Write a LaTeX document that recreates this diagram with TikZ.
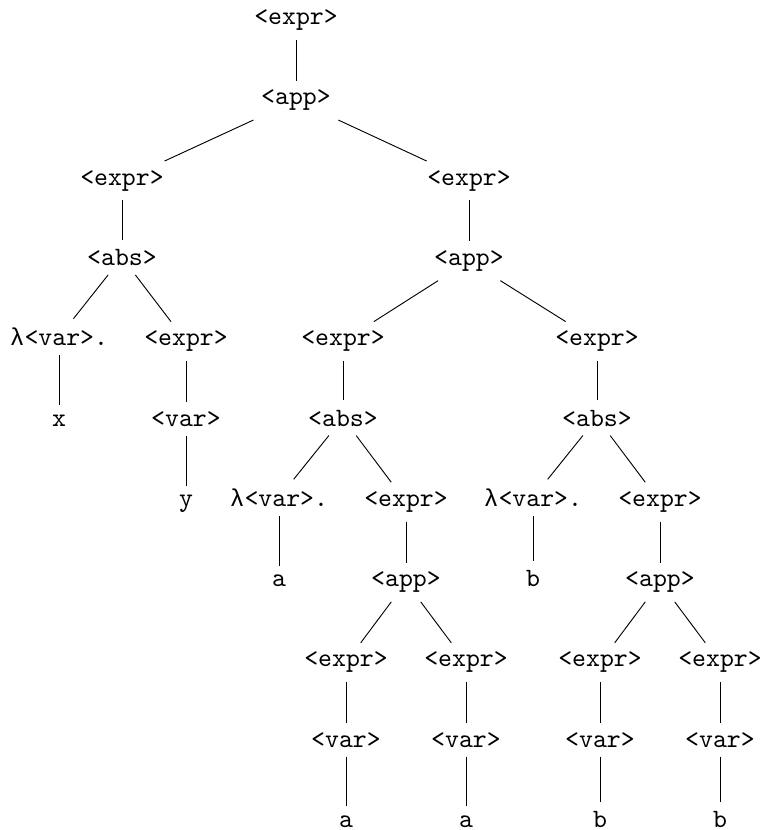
\documentclass[tikz,border=0pt]{standalone}
\usepackage{fontspec}
\newfontfamily\lamfont[Scale=0.92]{Liberation Mono}
\newcommand{\lamvar}{{\lamfont λ}<var>.}
\begin{document}
\begin{tikzpicture}[x=0.3774pt,y=-0.3774pt,
  every node/.style={font=\ttfamily, anchor=base},
  treeedge/.style={draw, line width=0.35pt}]
\useasboundingbox (0,0) rectangle (762,830);
% level 0
\node (r) at (296,24.5) {<expr>};
% level 1
\node (app1) at (296,104.8) {<app>};
% level 2
\node (e1) at (122,185.1) {<expr>};
\node (e2) at (469,185.1) {<expr>};
% level 3
\node (abs1) at (122,265.4) {<abs>};
\node (app2) at (469,265.4) {<app>};
% level 4
\node (lam1) at (59,345.7) {\lamvar};
\node (e3) at (186,345.7) {<expr>};
\node (e4) at (343,345.7) {<expr>};
\node (e5) at (597,345.7) {<expr>};
% level 5
\node (x) at (59,426) {x};
\node (var1) at (186,426) {<var>};
\node (abs2) at (343,426) {<abs>};
\node (abs3) at (597,426) {<abs>};
% level 6
\node (y) at (186,506.3) {y};
\node (lam2) at (279,506.3) {\lamvar};
\node (e6) at (406,506.3) {<expr>};
\node (lam3) at (533,506.3) {\lamvar};
\node (e7) at (660,506.3) {<expr>};
% level 7
\node (a1) at (279,586.6) {a};
\node (app3) at (406,586.6) {<app>};
\node (b1) at (533,586.6) {b};
\node (app4) at (660,586.6) {<app>};
% level 8
\node (e8) at (346,666.9) {<expr>};
\node (e9) at (466,666.9) {<expr>};
\node (e10) at (600,666.9) {<expr>};
\node (e11) at (720,666.9) {<expr>};
% level 9
\node (v8) at (346,747.2) {<var>};
\node (v9) at (466,747.2) {<var>};
\node (v10) at (600,747.2) {<var>};
\node (v11) at (720,747.2) {<var>};
% level 10
\node (a2) at (346,827.5) {a};
\node (a3) at (466,827.5) {a};
\node (b2) at (600,827.5) {b};
\node (b3) at (720,827.5) {b};
% edges
\path[treeedge] (r) -- (app1);
\path[treeedge] (app1) -- (e1);
\path[treeedge] (app1) -- (e2);
\path[treeedge] (e1) -- (abs1);
\path[treeedge] (abs1) -- (lam1);
\path[treeedge] (abs1) -- (e3);
\path[treeedge] (lam1) -- (x);
\path[treeedge] (e3) -- (var1);
\path[treeedge] (var1) -- (y);
\path[treeedge] (e2) -- (app2);
\path[treeedge] (app2) -- (e4);
\path[treeedge] (app2) -- (e5);
\path[treeedge] (e4) -- (abs2);
\path[treeedge] (e5) -- (abs3);
\path[treeedge] (abs2) -- (lam2);
\path[treeedge] (abs2) -- (e6);
\path[treeedge] (abs3) -- (lam3);
\path[treeedge] (abs3) -- (e7);
\path[treeedge] (lam2) -- (a1);
\path[treeedge] (e6) -- (app3);
\path[treeedge] (lam3) -- (b1);
\path[treeedge] (e7) -- (app4);
\path[treeedge] (app3) -- (e8);
\path[treeedge] (app3) -- (e9);
\path[treeedge] (app4) -- (e10);
\path[treeedge] (app4) -- (e11);
\path[treeedge] (e8) -- (v8);
\path[treeedge] (e9) -- (v9);
\path[treeedge] (e10) -- (v10);
\path[treeedge] (e11) -- (v11);
\path[treeedge] (v8) -- (a2);
\path[treeedge] (v9) -- (a3);
\path[treeedge] (v10) -- (b2);
\path[treeedge] (v11) -- (b3);
\end{tikzpicture}
\end{document}
